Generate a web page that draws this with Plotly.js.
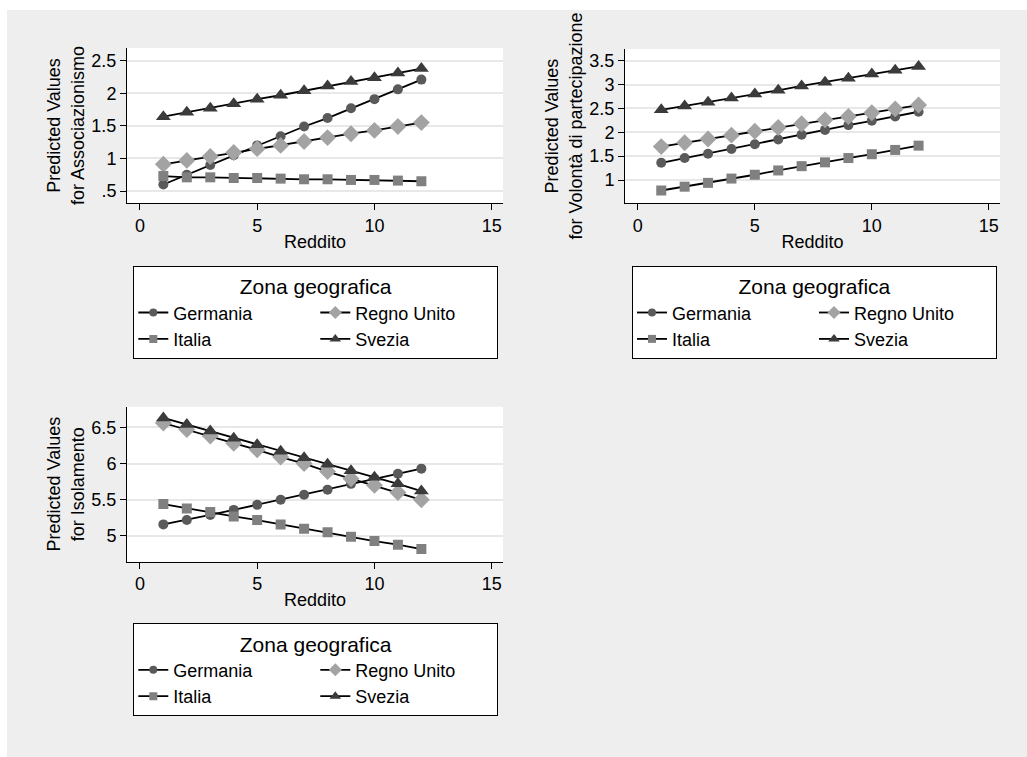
<!DOCTYPE html>
<html>
<head>
<meta charset="utf-8">
<script src="https://cdn.plot.ly/plotly-3.0.1.min.js"></script>
<style>
html, body { margin: 0; padding: 0; background: #ffffff; }
#chart { width: 1027px; height: 757px; }
</style>
</head>
<body>
<div id="chart"></div>
<script>
// ---- data ----
const reddito = [1, 2, 3, 4, 5, 6, 7, 8, 9, 10, 11, 12];
const zone = ["Germania", "Regno Unito", "Italia", "Svezia"];

const assocGermania   = [0.60, 0.75, 0.90, 1.05, 1.20, 1.34, 1.49, 1.62, 1.77, 1.91, 2.06, 2.21];
const assocRegnoUnito = [0.91, 0.97, 1.03, 1.09, 1.15, 1.20, 1.26, 1.32, 1.38, 1.43, 1.49, 1.55];
const assocItalia     = [0.73, 0.71, 0.71, 0.70, 0.70, 0.69, 0.68, 0.68, 0.67, 0.67, 0.66, 0.65];
const assocSvezia     = [1.64, 1.71, 1.77, 1.84, 1.91, 1.97, 2.04, 2.11, 2.18, 2.24, 2.31, 2.38];

const volGermania   = [1.36, 1.46, 1.55, 1.65, 1.75, 1.85, 1.95, 2.05, 2.15, 2.24, 2.33, 2.43];
const volRegnoUnito = [1.70, 1.78, 1.86, 1.94, 2.02, 2.10, 2.18, 2.26, 2.33, 2.41, 2.49, 2.57];
const volItalia     = [0.78, 0.86, 0.94, 1.03, 1.11, 1.20, 1.29, 1.37, 1.46, 1.54, 1.63, 1.72];
const volSvezia     = [2.47, 2.55, 2.63, 2.72, 2.80, 2.88, 2.97, 3.05, 3.13, 3.22, 3.30, 3.38];

const isoGermania   = [5.16, 5.22, 5.29, 5.36, 5.43, 5.50, 5.57, 5.64, 5.72, 5.79, 5.86, 5.93];
const isoRegnoUnito = [6.56, 6.47, 6.38, 6.28, 6.19, 6.09, 6.00, 5.89, 5.79, 5.70, 5.60, 5.50];
const isoItalia     = [5.44, 5.38, 5.33, 5.27, 5.22, 5.16, 5.10, 5.05, 4.99, 4.93, 4.88, 4.82];
const isoSvezia     = [6.63, 6.54, 6.45, 6.35, 6.26, 6.17, 6.08, 5.99, 5.90, 5.81, 5.72, 5.62];

const xTickVals = [0, 5, 10, 15];
const xTickText = ["0", "5", "10", "15"];
const assocTickVals = [0.5, 1, 1.5, 2, 2.5];
const assocTickText = [".5", "1", "1.5", "2", "2.5"];
const volTickVals = [1, 1.5, 2, 2.5, 3, 3.5];
const volTickText = ["1", "1.5", "2", "2.5", "3", "3.5"];
const isoTickVals = [5, 5.5, 6, 6.5];
const isoTickText = ["5", "5.5", "6", "6.5"];

const xTitle = "Reddito";
const yTitles = ["Predicted Values<br>for Associazionismo",
                 "Predicted Values<br>for Volontà di partecipazione",
                 "Predicted Values<br>for Isolamento"];
const legendTitle = "Zona geografica";

// ---- styles ----
const FONT = '"Liberation Sans", Arial, sans-serif';
const markerStyles = [
  {symbol: "circle", size: 10, lsize: 8, color: "#5a5a5a"},
  {symbol: "diamond", size: 13, lsize: 10, color: "#a3a3a3"},
  {symbol: "square", size: 10, lsize: 8, color: "#808080"},
  {symbol: "triangle-up", size: 13, lsize: 10, color: "#3b3b3b"}
];
const groupKeys = ["a", "b", "a", "b"];

const panels = [
  {series: [assocGermania, assocRegnoUnito, assocItalia, assocSvezia], xa: "x", ya: "y", leg: "legend"},
  {series: [volGermania, volRegnoUnito, volItalia, volSvezia], xa: "x2", ya: "y2", leg: "legend2"},
  {series: [isoGermania, isoRegnoUnito, isoItalia, isoSvezia], xa: "x3", ya: "y3", leg: "legend3"}
];

const traces = [];
panels.forEach((p, pi) => {
  p.series.forEach((vals, si) => {
    traces.push({
      type: "scatter", mode: "lines+markers",
      x: reddito, y: vals, name: zone[si],
      xaxis: p.xa, yaxis: p.ya, showlegend: false,
      line: {color: "#000000", width: 1.8},
      marker: {symbol: markerStyles[si].symbol, size: markerStyles[si].size,
               color: markerStyles[si].color, line: {width: 0}},
      hoverinfo: "x+y+name"
    });
  });
  // legend-only entries (no data drawn) with smaller symbols, as in the reference key
  zone.forEach((z, si) => {
    traces.push({
      type: "scatter", mode: "lines+markers",
      x: [null], y: [null], name: z,
      xaxis: p.xa, yaxis: p.ya, legend: p.leg, showlegend: true,
      legendgroup: groupKeys[si] + pi,
      line: {color: "#000000", width: 1.8},
      marker: {symbol: markerStyles[si].symbol, size: markerStyles[si].lsize,
               color: markerStyles[si].color, line: {width: 0}},
      hoverinfo: "skip"
    });
  });
});

function xAxis(domain, anchor) {
  return {
    domain: domain, anchor: anchor, range: [-0.55, 15.48],
    tickvals: xTickVals, ticktext: xTickText,
    showline: true, linecolor: "#000000", linewidth: 1,
    ticks: "outside", ticklen: 6, tickcolor: "#000000", tickwidth: 1,
    showgrid: false, zeroline: false,
    tickfont: {family: FONT, size: 18, color: "#000000"},
    title: {text: xTitle, font: {family: FONT, size: 18, color: "#000000"}, standoff: 0}
  };
}
function yAxis(domain, anchor, range, tv, tt, title) {
  return {
    domain: domain, anchor: anchor, range: range,
    tickvals: tv, ticktext: tt,
    showline: true, linecolor: "#000000", linewidth: 1,
    ticks: "outside", ticklen: 6, tickcolor: "#000000", tickwidth: 1,
    showgrid: true, gridcolor: "#e8e8e8", gridwidth: 2, zeroline: false,
    tickfont: {family: FONT, size: 18, color: "#000000"},
    title: {text: title, font: {family: FONT, size: 18, color: "#000000"}, standoff: 2}
  };
}

function legendCfg(x, y) {
  return {
    x: x, xanchor: "left", y: y, yanchor: "top",
    orientation: "h", traceorder: "grouped",
    bgcolor: "#ffffff", bordercolor: "#000000", borderwidth: 1,
    font: {family: FONT, size: 18, color: "#000000"},
    title: {text: legendTitle, side: "top center", font: {family: FONT, size: 21, color: "#000000"}},
    entrywidth: 137, tracegroupgap: 0
  };
}

const W = 1027, H = 757;
const d1x = [127 / W, 503 / W], d1y = [1 - 203 / H, 1 - 48 / H];
const d2x = [625 / W, 1000 / W], d2y = [1 - 203 / H, 1 - 49 / H];
const d3y = [1 - 561.7 / H, 1 - 406.7 / H];

const shapes = [
  {type: "rect", xref: "paper", yref: "paper", x0: 7 / W, x1: 1, y0: 0, y1: 1 - 10 / H,
   fillcolor: "#eeeeee", line: {width: 0}, layer: "below"}
];
[["x", "y"], ["x2", "y2"], ["x3", "y3"]].forEach(([xa, ya]) => {
  shapes.push({type: "rect", xref: xa + " domain", yref: ya + " domain", x0: 0, x1: 1, y0: 0, y1: 1,
               fillcolor: "#ffffff", line: {width: 0}, layer: "below"});
});

const layout = {
  width: W, height: H,
  margin: {l: 0, r: 0, t: 0, b: 0},
  paper_bgcolor: "#ffffff", plot_bgcolor: "#ffffff",
  font: {family: FONT, color: "#000000"},
  showlegend: true,
  xaxis: xAxis(d1x, "y"),
  yaxis: yAxis(d1y, "x", [0.316, 2.695], assocTickVals, assocTickText, yTitles[0]),
  xaxis2: xAxis(d2x, "y2"),
  yaxis2: yAxis(d2y, "x2", [0.518, 3.745], volTickVals, volTickText, yTitles[1]),
  xaxis3: xAxis(d1x, "y3"),
  yaxis3: yAxis(d3y, "x3", [4.645, 6.785], isoTickVals, isoTickText, yTitles[2]),
  legend: legendCfg(133.3 / W, 1 - 266 / H),
  legend2: legendCfg(632 / W, 1 - 266 / H),
  legend3: legendCfg(133.3 / W, 1 - 623.3 / H),
  shapes: shapes
};

Plotly.newPlot("chart", traces, layout, {displayModeBar: false});
</script>
</body>
</html>
